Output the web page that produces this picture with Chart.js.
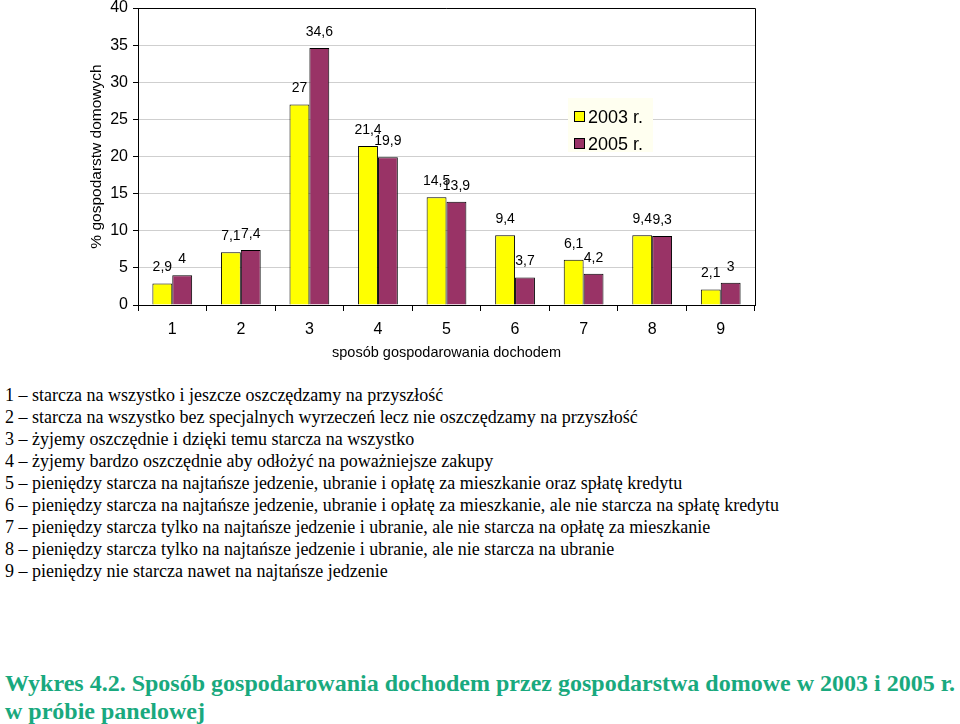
<!DOCTYPE html>
<html>
<head>
<meta charset="utf-8">
<script src="https://cdn.jsdelivr.net/npm/chart.js@4"></script>
<style>
  html, body { margin: 0; padding: 0; background: #fff; }
  body { width: 960px; height: 724px; position: relative; overflow: hidden; }
  #wrap { position: absolute; left: 0; top: 0; width: 960px; height: 370px; }
  #notes { position: absolute; left: 5px; top: 384px; font-family: "Liberation Serif", "Times New Roman", serif; font-size: 18px; line-height: 22px; color: #000; white-space: nowrap; }
  #caption { position: absolute; left: 5px; top: 669px; font-family: "Liberation Serif", "Times New Roman", serif; font-weight: bold; font-size: 24px; line-height: 28px; color: #19A97E; white-space: nowrap; }
</style>
</head>
<body>
<div id="wrap"><canvas id="c" width="960" height="370"></canvas></div>
<div id="notes"></div>
<div id="caption"></div>
<script>
const categories = ["1", "2", "3", "4", "5", "6", "7", "8", "9"];
const values2003 = [2.9, 7.1, 27, 21.4, 14.5, 9.4, 6.1, 9.4, 2.1];
const values2005 = [4, 7.4, 34.6, 19.9, 13.9, 3.7, 4.2, 9.3, 3];
const seriesLabels = ["2003 r.", "2005 r."];
const yTitle = "% gospodarstw domowych";
const xTitle = "sposób gospodarowania dochodem";
const notes = [
  "1 – starcza na wszystko i jeszcze oszczędzamy na przyszłość",
  "2 – starcza na wszystko bez specjalnych wyrzeczeń lecz nie oszczędzamy na przyszłość",
  "3 – żyjemy oszczędnie i dzięki temu starcza na wszystko",
  "4 – żyjemy bardzo oszczędnie aby odłożyć na poważniejsze zakupy",
  "5 – pieniędzy starcza na najtańsze jedzenie, ubranie i opłatę za mieszkanie oraz spłatę kredytu",
  "6 – pieniędzy starcza na najtańsze jedzenie, ubranie i opłatę za mieszkanie, ale nie starcza na spłatę kredytu",
  "7 – pieniędzy starcza tylko na najtańsze jedzenie i ubranie, ale nie starcza na opłatę za mieszkanie",
  "8 – pieniędzy starcza tylko na najtańsze jedzenie i ubranie, ale nie starcza na ubranie",
  "9 – pieniędzy nie starcza nawet na najtańsze jedzenie"
];
const captionLines = [
  "Wykres 4.2. Sposób gospodarowania dochodem przez gospodarstwa domowe w 2003 i 2005 r.",
  "w próbie panelowej"
];

document.getElementById('notes').innerHTML = notes.map(t => '<div>' + t + '</div>').join('');
document.getElementById('caption').innerHTML = captionLines.map(t => '<div>' + t + '</div>').join('');

const FONT = "'Liberation Sans', Arial, sans-serif";
const fmt = v => String(v).replace('.', ',');

const valueLabels = {
  id: 'valueLabels',
  afterDatasetsDraw(chart) {
    const ctx = chart.ctx;
    ctx.save();
    ctx.font = "14px " + FONT;
    ctx.fillStyle = '#000';
    ctx.textAlign = 'center';
    ctx.textBaseline = 'middle';
    chart.data.datasets.forEach((ds, i) => {
      const meta = chart.getDatasetMeta(i);
      meta.data.forEach((bar, j) => {
        ctx.fillText(fmt(ds.data[j]), bar.x, bar.y - 16);
      });
    });
    ctx.restore();
  }
};

const frame = {
  id: 'frame',
  afterDraw(chart) {
    const {left, right, top, bottom} = chart.chartArea;
    const ctx = chart.ctx;
    ctx.save();
    ctx.strokeStyle = '#000';
    ctx.lineWidth = 1;
    ctx.beginPath();
    ctx.moveTo(left, top + 0.5);
    ctx.lineTo(right + 0.5, top + 0.5);
    ctx.lineTo(right + 0.5, bottom);
    ctx.stroke();
    ctx.restore();
  }
};

const customLegend = {
  id: 'customLegend',
  afterDraw(chart) {
    const ctx = chart.ctx;
    ctx.save();
    ctx.fillStyle = '#FFFFF0';
    ctx.fillRect(568, 98, 85, 54);
    ctx.font = "18px " + FONT;
    ctx.textBaseline = 'middle';
    ctx.textAlign = 'left';
    chart.data.datasets.forEach((ds, i) => {
      const cy = 117 + i * 27;
      ctx.fillStyle = ds.backgroundColor;
      ctx.fillRect(574.5, cy - 5.5, 10, 10);
      ctx.strokeStyle = '#000';
      ctx.lineWidth = 1;
      ctx.strokeRect(574.5, cy - 5.5, 10, 10);
      ctx.fillStyle = '#000';
      ctx.fillText(ds.label, 588, cy + 1);
    });
    ctx.restore();
  }
};

new Chart(document.getElementById('c'), {
  type: 'bar',
  data: {
    labels: categories,
    datasets: [
      { label: seriesLabels[0], data: values2003, backgroundColor: '#FFFF00', borderColor: '#000', borderWidth: 1, categoryPercentage: 0.58, barPercentage: 1.0 },
      { label: seriesLabels[1], data: values2005, backgroundColor: '#993366', borderColor: '#000', borderWidth: 1, categoryPercentage: 0.58, barPercentage: 1.0 }
    ]
  },
  options: {
    responsive: false,
    animation: false,
    layout: { padding: { left: 0, right: 205, top: 8, bottom: 0 } },
    plugins: { legend: { display: false }, tooltip: { enabled: false } },
    scales: {
      x: {
        grid: { offset: true, drawOnChartArea: false, drawTicks: true, tickLength: 6, tickColor: '#000' },
        border: { display: true, color: '#000', width: 1 },
        ticks: { color: '#000', font: { family: FONT, size: 16 }, padding: 9, maxRotation: 0 },
        title: { display: true, text: xTitle, color: '#000', font: { family: FONT, size: 14.5 }, padding: { top: 0, bottom: 8 } },
        afterFit(scale) { scale.height = 65; scale.paddingLeft = 0; scale.paddingRight = 0; }
      },
      y: {
        min: 0, max: 40,
        ticks: { stepSize: 5, color: '#000', font: { family: FONT, size: 16 }, padding: 5 },
        grid: { color: '#CFCFCF', tickLength: 5, tickColor: '#000', lineWidth: 1 },
        border: { display: true, color: '#000', width: 1 },
        title: { display: true, text: yTitle, color: '#000', font: { family: FONT, size: 15.5 }, padding: { top: 87, bottom: 0 } },
        afterFit(scale) { scale.width = 138; scale.paddingTop = 0; scale.paddingBottom = 0; }
      }
    }
  },
  plugins: [valueLabels, frame, customLegend]
});
</script>
</body>
</html>
